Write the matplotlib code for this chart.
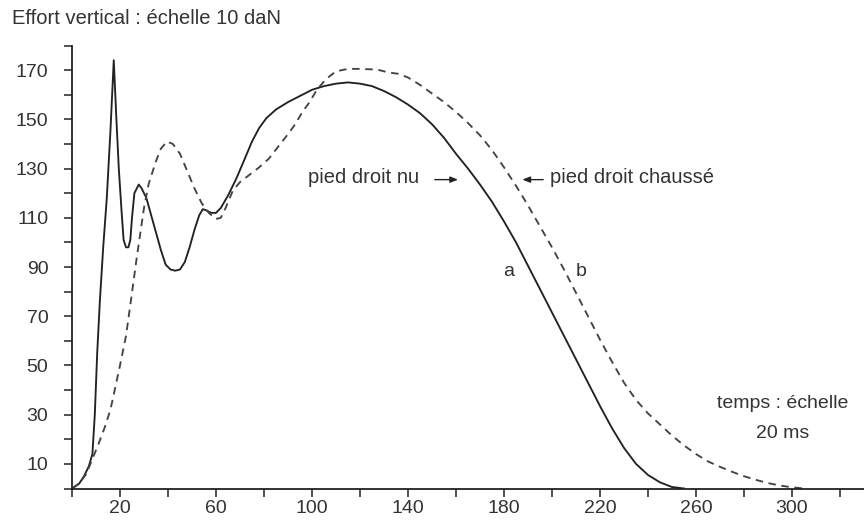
import matplotlib
matplotlib.use('Agg')
import matplotlib.pyplot as plt
from matplotlib.ticker import MultipleLocator

plt.rcParams['font.family'] = ['Liberation Sans', 'DejaVu Sans']

# Courbe a : pied droit nu (temps en ms, effort en daN)
t_nu = [0, 3, 5, 7, 8.5, 9.5, 10.5, 11.6, 13, 14.5, 16, 17.4, 18.5, 19.5, 20.7,
        21.5, 22.5, 23.5, 24.3, 25, 26, 27.8, 29, 31, 33, 35, 37, 39, 41, 43,
        45, 47, 49, 51, 53, 54.5, 56, 58, 60, 62, 65, 68.5, 72, 75, 78, 81, 85,
        90, 95, 100, 105, 110, 115, 120, 125, 130, 135, 140, 145, 150, 155,
        160, 165, 170, 175, 180, 185, 190, 195, 200, 205, 210, 215, 220, 225,
        230, 235, 240, 245, 250, 255]
f_nu = [0, 2, 5, 9, 14, 30, 55, 76, 98, 118, 145, 174, 150, 130, 112,
        101, 98, 98, 101, 110, 120, 123.5, 122, 118, 111, 104, 97, 91, 89, 88.5,
        89, 92, 98, 105, 111, 113.5, 113, 112, 112, 114, 119, 126, 134, 141, 146.5, 150.5, 154,
        157, 159.5, 162, 163.5, 164.5, 165, 164.5, 163.5, 161.5, 159, 156, 152.5, 148, 142.5,
        136, 130, 123.5, 116.5, 108.5, 100, 90.5, 81, 71.5, 62, 52.5, 43, 33.5, 24.5,
        16.5, 10, 5.5, 2.5, 0.6, 0]

# Courbe b : pied droit chaussé
t_ch = [0, 3, 6, 8.3, 11, 13.7, 16, 17.8, 20, 22.5, 24.5, 27, 30, 32, 35, 37,
        39.5, 42, 45, 48, 51, 54, 57, 60, 62, 64, 67, 70, 74, 78, 82, 86, 90,
        93, 96, 99, 102, 106, 110, 115, 120, 125, 128, 132, 136, 140, 145, 150,
        155, 160, 165, 170, 175, 180, 185, 190, 195, 200, 205, 210, 215, 220,
        225, 230, 235, 240, 245, 250, 255, 260, 265, 270, 275, 280, 285, 290,
        295, 300, 305]
f_ch = [0, 2, 6, 11.5, 18, 25, 32, 40, 50, 62, 76, 94, 114, 124, 133, 138,
        141, 140, 136, 129, 122, 116, 112, 109.5, 110, 114, 121, 124.5, 127.5, 130.5, 134, 139, 144,
        148, 153, 157, 162, 166.5, 169.5, 170.5, 170.5, 170.3, 170, 169, 168.5, 167, 164, 160.5,
        157, 153, 148.5, 143.5, 137.5, 130.5, 123, 115, 106.5, 98, 89, 79.5, 70, 60.5,
        51.5, 43, 36, 30.5, 26, 21.5, 17.5, 14, 11, 8.8, 6.8, 5, 3.5, 2.2,
        1.2, 0.5, 0]

x_labels = [20, 60, 100, 140, 180, 220, 260, 300]
y_labels = [10, 30, 50, 70, 90, 110, 130, 150, 170]

gris = '#333333'

fig = plt.figure(figsize=(8.64, 5.22), dpi=100)
ax = fig.add_axes([72 / 864, 33.5 / 522, 792 / 864, 443 / 522])

ax.plot(t_nu, f_nu, color='#222222', lw=1.35)
ax.plot(t_ch, f_ch, color='#444444', lw=1.35, linestyle=(0, (4, 3)))

ax.set_xlim(0, 330)
ax.set_ylim(0, 180)

for s in ['top', 'right']:
    ax.spines[s].set_visible(False)
for s in ['left', 'bottom']:
    ax.spines[s].set_linewidth(1.3)
    ax.spines[s].set_color('#222222')

ax.set_xticks(x_labels)
ax.set_yticks(y_labels)
ax.xaxis.set_minor_locator(MultipleLocator(40))
ax.yaxis.set_minor_locator(MultipleLocator(20))
ax.tick_params(which='both', direction='out', length=6, width=1.1,
               color='#222222', labelsize=14, labelcolor=gris)
ax.tick_params(axis='y', pad=11)
ax.tick_params(axis='x', pad=2)

fig.text(12 / 864, 1 - 18 / 522, 'Effort vertical : échelle 10 daN',
         fontsize=14.5, color=gris, va='center', ha='left')

ax.text(144.5, 126.5, 'pied droit nu', fontsize=14.5, color=gris,
        ha='right', va='center')
ax.annotate('', xy=(162, 125.5), xytext=(150, 125.5),
            arrowprops=dict(arrowstyle='-|>,head_length=0.45,head_width=0.18',
                            color='#222222', lw=1))
ax.text(199, 126.5, 'pied droit chaussé', fontsize=14.5, color=gris,
        ha='left', va='center')
ax.annotate('', xy=(186.5, 125.5), xytext=(197.5, 125.5),
            arrowprops=dict(arrowstyle='-|>,head_length=0.45,head_width=0.18',
                            color='#222222', lw=1))

ax.text(182, 88, 'a', fontsize=14, color=gris, ha='center', va='center')
ax.text(212, 88, 'b', fontsize=14, color=gris, ha='center', va='center')

ax.text(296, 34.5, 'temps : échelle', fontsize=14, color=gris,
        ha='center', va='center')
ax.text(296, 22.5, '20 ms', fontsize=14, color=gris,
        ha='center', va='center')

fig.savefig('out.png', dpi=100)
